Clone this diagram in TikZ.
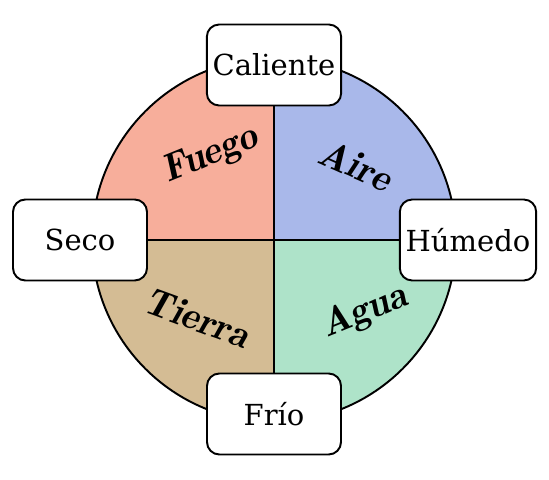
\documentclass[tikz,border=0pt]{standalone}
\usepackage{fontspec}
\setmainfont{DejaVu Serif}
\usepackage{tikz}
\usetikzlibrary{positioning}

\definecolor{fuegoc}{HTML}{F7AE9B}
\definecolor{airec}{HTML}{A9B8EA}
\definecolor{tierrac}{HTML}{D4BC94}
\definecolor{aguac}{HTML}{AEE3C9}

\tikzset{
    qualidad/.style={draw, line width=1.1pt, fill=white, rounded corners=7pt,
        minimum width=2.68cm, minimum height=1.62cm,
        font=\fontsize{16.5}{19}\selectfont},
    elemento/.style={font=\fontfamily{lmr}\fontsize{22}{26}\selectfont\bfseries\itshape}
}

\begin{document}
\begin{tikzpicture}[x=0.02cm, y=-0.02cm]
    \useasboundingbox (0,0) rectangle (549,480);

    % Centre of the circle
    \coordinate (c) at (274,240);

    % The four quadrants
    \begin{scope}
        \clip (c) circle[radius=182];
        \fill[fuegoc] (c) rectangle (80,40);
        \fill[airec] (c) rectangle (470,40);
        \fill[aguac] (c) rectangle (470,440);
        \fill[tierrac] (c) rectangle (80,440);
    \end{scope}
    \draw[line width=1.1pt] (c) circle[radius=182];
    \draw[line width=1.1pt] (274,58) -- (274,422);
    \draw[line width=1.1pt] (92,240) -- (456,240);

    % Elements
    \node[elemento, rotate=22] (fuego) at (211,155) {Fuego};
    \node[elemento, rotate=-24] (aire) at (356,165) {Aire};
    \node[elemento, rotate=-20] (tierra) at (198,318) {Tierra};
    \node[elemento, rotate=22] (agua) at (365,312) {Agua};

    % Qualities
    \node[qualidad] (caliente) at (274,65) {Caliente};
    \node[qualidad] (seco) at (80,240) {Seco};
    \node[qualidad] (humedo) at (468,240) {Húmedo};
    \node[qualidad] (frio) at (274,414) {Frío};

\end{tikzpicture}
\end{document}
